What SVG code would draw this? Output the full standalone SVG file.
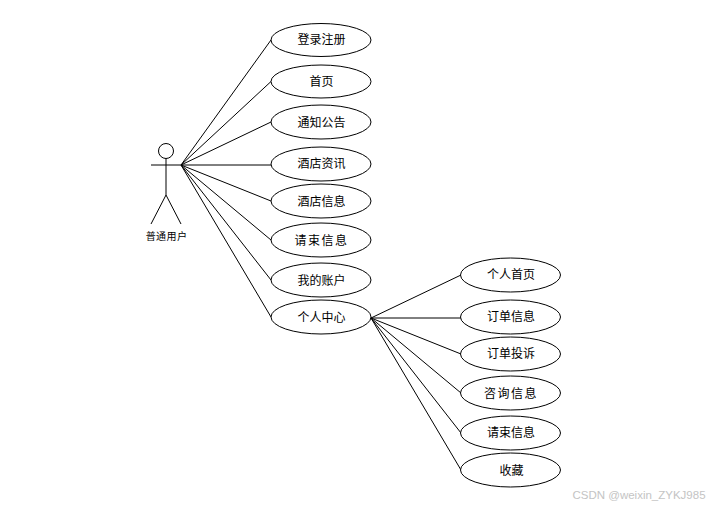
<svg xmlns="http://www.w3.org/2000/svg" width="726" height="507" viewBox="0 0 726 507">
<style>
.s{fill:none;stroke:#000;stroke-width:1}
ellipse{fill:#fff;stroke:#000;stroke-width:1}
text{font-family:"Noto Sans CJK SC","Liberation Sans",sans-serif;font-size:12px;fill:#000;text-anchor:middle}
.w{letter-spacing:1.5px}
</style>
<rect width="726" height="507" fill="#fff"/>
<g id="connectors" class="s">
<path d="M181 165L271 40M181 165L271 81.500M181 165L271 122M181 165H271M181 165L271 201M181 165L271 240M181 165L271 280M181 165L271 317"/>
<path d="M371 318L461 275M371 318H461M371 318L461 354M371 318L461 393M371 318L461 433M371 318L461 470"/>
</g>
<g id="actor">
<circle class="s" cx="166" cy="151" r="7.500"/>
<path class="s" d="M166 158.500V195M151 165H181M166 195L151 224M166 195L181 224"/>
<text x="166.500" y="240" style="font-size:10px;letter-spacing:.4px">普通用户</text>
</g>
<g id="n1"><ellipse cx="321" cy="40" rx="50" ry="16.500"/><text x="321.500" y="44">登录注册</text></g>
<g id="n2"><ellipse cx="321" cy="81.500" rx="50" ry="16.500"/><text x="321.500" y="86">首页</text></g>
<g id="n3"><ellipse cx="321" cy="122" rx="50" ry="17"/><text x="321.500" y="127">通知公告</text></g>
<g id="n4"><ellipse cx="321" cy="164" rx="50" ry="17"/><text x="321.500" y="168">酒店资讯</text></g>
<g id="n5"><ellipse cx="321" cy="201" rx="50" ry="17"/><text x="321.500" y="206">酒店信息</text></g>
<g id="n6"><ellipse cx="321" cy="240" rx="50" ry="17"/><text x="321.500" y="245" class="w">请束信息</text></g>
<g id="n7"><ellipse cx="321" cy="280" rx="50" ry="17"/><text x="321.500" y="285">我的账户</text></g>
<g id="n8"><ellipse cx="321" cy="317" rx="50" ry="17"/><text x="321.500" y="322">个人中心</text></g>
<g id="m1"><ellipse cx="510.500" cy="275" rx="50" ry="17"/><text x="511" y="279">个人首页</text></g>
<g id="m2"><ellipse cx="510.500" cy="317" rx="50" ry="17"/><text x="511" y="321">订单信息</text></g>
<g id="m3"><ellipse cx="510.500" cy="354" rx="50" ry="17"/><text x="511" y="358">订单投诉</text></g>
<g id="m4"><ellipse cx="510.500" cy="393" rx="50" ry="17"/><text x="511" y="398" class="w">咨询信息</text></g>
<g id="m5"><ellipse cx="510.500" cy="433" rx="50" ry="17"/><text x="511" y="437">请束信息</text></g>
<g id="m6"><ellipse cx="510.500" cy="470" rx="50" ry="17"/><text x="511.500" y="475">收藏</text></g>
<text x="639" y="499" style="font-family:'Liberation Sans',sans-serif;font-size:11.500px;fill:#c4c4c4">CSDN @weixin_ZYKJ985</text>
</svg>
